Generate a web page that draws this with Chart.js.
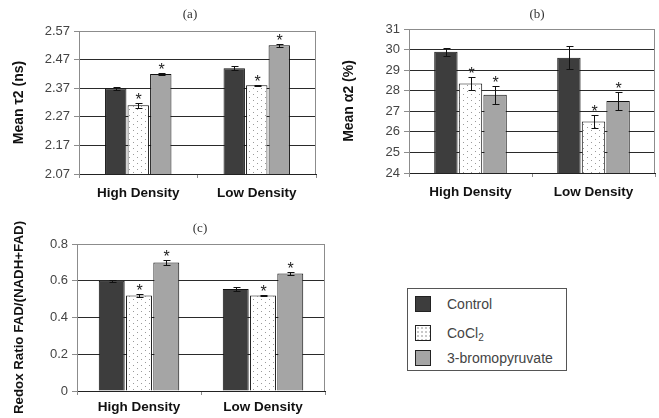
<!DOCTYPE html>
<html>
<head>
<meta charset="utf-8">
<script src="https://cdn.jsdelivr.net/npm/chart.js@4"></script>
<style>
body { margin: 0; background: #fff; width: 659px; height: 418px; position: relative; overflow: hidden; font-family: "Liberation Sans", Arial, sans-serif; }
canvas { position: absolute; }
#legend { position: absolute; left: 407px; top: 288px; width: 160px; height: 83px; border: 1px solid #555; box-sizing: border-box; }
.item { position: absolute; left: 7px; height: 16px; font-size: 14px; color: #444; line-height: 16px; }
.sw { position: absolute; left: 0; top: 0; width: 14px; height: 14px; border: 1px solid #222; }
.item span.t { position: absolute; left: 32px; top: 0; white-space: nowrap; }
.dots { background-color: #fff; background-image: radial-gradient(#888 0.6px, transparent 0.8px); background-size: 4px 4px; }
sub { font-size: 10px; vertical-align: -3px; line-height: 0; }
</style>
</head>
<body>
<canvas id="chartA" width="330" height="210" style="left:0;top:0"></canvas>
<canvas id="chartB" width="329" height="210" style="left:330px;top:0"></canvas>
<canvas id="chartC" width="330" height="213" style="left:0;top:205px"></canvas>
<div id="legend">
  <div class="item" style="top:7px"><div class="sw" style="background:#3d3d3d"></div><span class="t">Control</span></div>
  <div class="item" style="top:36px"><div class="sw dots"></div><span class="t">CoCl<sub>2</sub></span></div>
  <div class="item" style="top:61px"><div class="sw" style="background:#a5a5a5"></div><span class="t">3-bromopyruvate</span></div>
</div>
<script>
const categories = ["High Density", "Low Density"];
const seriesNames = ["Control", "CoCl2", "3-bromopyruvate"];
const significant = [[false, false], [true, true], [true, true]];

// (a) mean tau2
const tauControl = [2.37, 2.44];
const tauCocl = [2.31, 2.38];
const tauBromo = [2.42, 2.52];
const tauControlErr = [0.005, 0.008];
const tauCoclErr = [0.01, 0.002];
const tauBromoErr = [0.004, 0.006];
const tauTicks = [2.07, 2.17, 2.27, 2.37, 2.47, 2.57];

// (b) mean alpha2
const alphaControl = [29.9, 29.6];
const alphaCocl = [28.35, 26.5];
const alphaBromo = [27.8, 27.5];
const alphaControlErr = [0.2, 0.55];
const alphaCoclErr = [0.3, 0.3];
const alphaBromoErr = [0.45, 0.43];
const alphaTicks = [24, 25, 26, 27, 28, 29, 30, 31];

// (c) redox ratio
const redoxControl = [0.60, 0.555];
const redoxCocl = [0.52, 0.52];
const redoxBromo = [0.70, 0.64];
const redoxControlErr = [0.005, 0.01];
const redoxCoclErr = [0.01, 0.003];
const redoxBromoErr = [0.015, 0.006];
const redoxTicks = [0, 0.2, 0.4, 0.6, 0.8];

function dotPattern() {
    let c = document.createElement("canvas");
    c.width = 8; c.height = 6;
    let g = c.getContext("2d");
    g.fillStyle = "#fff";
    g.fillRect(0, 0, 8, 6);
    g.fillStyle = "#9a9a9a";
    g.fillRect(1, 1, 1, 1);
    g.fillRect(5, 4, 1, 1);
    return g.createPattern(c, "repeat");
}

const extras = {
    id: "extras",
    beforeDatasetsDraw(chart) {
        let a = chart.chartArea, ctx = chart.ctx;
        ctx.save();
        ctx.strokeStyle = "#8c8c8c";
        ctx.lineWidth = 1;
        ctx.beginPath();
        ctx.moveTo(a.left, a.top + 0.5);
        ctx.lineTo(a.right - 0.5, a.top + 0.5);
        ctx.lineTo(a.right - 0.5, a.bottom);
        ctx.stroke();
        ctx.restore();
    },
    afterDatasetsDraw(chart, args, opts) {
        let ctx = chart.ctx, y = chart.scales.y;
        ctx.save();
        chart.data.datasets.forEach((ds, i) => {
            chart.getDatasetMeta(i).data.forEach((bar, j) => {
                let v = ds.data[j], e = ds.errors[j];
                let x = Math.round(bar.x) + 0.5;
                let top = Math.round(y.getPixelForValue(v + e)) + 0.5;
                let bot = Math.round(y.getPixelForValue(v - e)) + 0.5;
                ctx.strokeStyle = "#111";
                ctx.lineWidth = 1;
                ctx.beginPath();
                ctx.moveTo(x, top); ctx.lineTo(x, bot);
                ctx.moveTo(x - 3, top); ctx.lineTo(x + 4, top);
                ctx.moveTo(x - 3, bot); ctx.lineTo(x + 4, bot);
                ctx.stroke();
                if (ds.sig[j]) {
                    ctx.fillStyle = "#222";
                    ctx.font = '16px "Liberation Sans"';
                    ctx.textAlign = "center";
                    ctx.textBaseline = "alphabetic";
                    ctx.fillText("*", x, top + 1);
                }
            });
        });
        ctx.fillStyle = "#333";
        ctx.font = '13px "Liberation Serif"';
        ctx.textAlign = "center";
        ctx.textBaseline = "middle";
        ctx.fillText(opts.label, opts.labelX, opts.labelY);
        ctx.restore();
    }
};

function makeChart(id, p) {
    let fills = ["#3d3d3d", dotPattern(), "#a5a5a5"];
    let datasets = p.values.map((vals, i) => ({
        label: seriesNames[i],
        data: vals,
        errors: p.errors[i],
        sig: significant[i],
        backgroundColor: fills[i],
        borderColor: "#111",
        borderWidth: 1,
        categoryPercentage: p.catPct,
        barPercentage: 0.95
    }));
    let last = p.ticks.length - 1;

    return new Chart(document.getElementById(id), {
        type: "bar",
        data: { labels: categories, datasets: datasets },
        plugins: [extras],
        options: {
            responsive: false,
            animation: false,
            devicePixelRatio: 1,
            layout: { padding: { left: 0, top: p.top, right: p.right, bottom: 0 } },
            plugins: {
                legend: { display: false },
                tooltip: { enabled: false },
                extras: { label: p.label, labelX: p.labelX, labelY: p.labelY }
            },
            scales: {
                x: {
                    grid: { offset: true, drawOnChartArea: false, tickLength: 4, tickColor: "#8c8c8c" },
                    border: { color: "#222" },
                    ticks: { padding: p.xPad, color: "#111", font: { family: "Liberation Sans", size: 13.5, weight: "bold" } },
                    afterFit: s => { s.height = p.xh; }
                },
                y: {
                    min: p.ticks[0],
                    max: p.ticks[last],
                    afterBuildTicks: s => { s.ticks = p.ticks.map(v => ({ value: v })); },
                    grid: {
                        color: c => c.index === last ? "#8c8c8c" : "#2a2a2a",
                        tickColor: "#8c8c8c",
                        tickLength: 5
                    },
                    border: { color: "#8c8c8c" },
                    ticks: {
                        padding: 4,
                        color: "#444",
                        font: { family: "Liberation Sans", size: 13 },
                        callback: v => v === 0 ? "0" : v.toFixed(p.digits)
                    },
                    title: {
                        display: true,
                        text: p.yTitle,
                        color: "#111",
                        padding: { top: 11, bottom: 0 },
                        font: { family: "Liberation Sans", size: p.titleSize, weight: "bold" }
                    },
                    afterFit: s => { s.width = p.yw; }
                }
            }
        }
    });
}

makeChart("chartA", {
    values: [tauControl, tauCocl, tauBromo],
    errors: [tauControlErr, tauCoclErr, tauBromoErr],
    ticks: tauTicks, digits: 2,
    yTitle: "Mean \u03c42 (ns)", titleSize: 14,
    label: "(a)", labelX: 190, labelY: 15,
    top: 31, right: 14, yw: 79, xh: 36, xPad: 7, catPct: 0.57
});

makeChart("chartB", {
    values: [alphaControl, alphaCocl, alphaBromo],
    errors: [alphaControlErr, alphaCoclErr, alphaBromoErr],
    ticks: alphaTicks, digits: 0,
    yTitle: "Mean \u03b12 (%)", titleSize: 14,
    label: "(b)", labelX: 207, labelY: 15,
    top: 29, right: 4, yw: 79, xh: 37, xPad: 7, catPct: 0.6
});

makeChart("chartC", {
    values: [redoxControl, redoxCocl, redoxBromo],
    errors: [redoxControlErr, redoxCoclErr, redoxBromoErr],
    ticks: redoxTicks, digits: 1,
    yTitle: "Redox Ratio FAD/(NADH+FAD)", titleSize: 13.3,
    label: "(c)", labelX: 200, labelY: 24,
    top: 39, right: 5, yw: 77, xh: 27, xPad: 4, catPct: 0.66
});
</script>
</body>
</html>
